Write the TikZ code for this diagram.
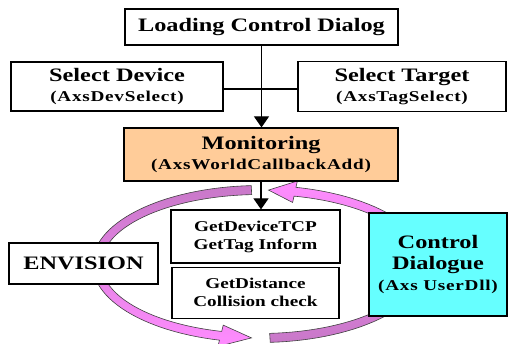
\documentclass[tikz,border=0pt]{standalone}
\usepackage{fontspec}
\setmainfont{Liberation Serif}[FakeStretch=1.28]
\usepackage{tikz}
\usetikzlibrary{arrows.meta, positioning, backgrounds}
\definecolor{peach}{RGB}{255,204,153}
\definecolor{aqua}{RGB}{102,255,255}
\definecolor{bandpurple}{RGB}{200,120,200}
\definecolor{bandpink}{RGB}{255,140,255}
\newcommand{\bigtxt}{\fontsize{19}{21}\selectfont}
\newcommand{\subtxt}{\fontsize{15}{17}\selectfont\addfontfeature{LetterSpace=5}}

\begin{document}
\begin{tikzpicture}[x=1pt, y=-1pt,
  box/.style={draw=black, line width=1.2pt, fill=white, align=center, font=\bfseries\bigtxt, inner sep=0pt},
  arr/.style={-{Triangle[width=15pt,length=11pt]}, line width=1.2pt},
  band/.style={draw=black!75, line width=0.6pt}
]
\useasboundingbox (0,0) rectangle (508,344);

\node[box, minimum width=273, minimum height=36] (load) at (261.5,27) {Loading Control Dialog};
\node[box, minimum width=212, minimum height=49] (dev) at (117,86.5) {Select Device\\[-1pt]\subtxt (AxsDevSelect)};
\node[box, minimum width=208, minimum height=50] (tgt) at (402,86.5) {Select Target\\[-1pt]\subtxt (AxsTagSelect)};
\node[box, fill=peach, minimum width=274, minimum height=53] (mon) at (261,154.5) {Monitoring\\[-1pt]\subtxt (AxsWorldCallbackAdd)};
\node[box, font=\bfseries\fontsize{15}{18}\selectfont, minimum width=169, minimum height=53] (tcp) at (255.5,236.5) {GetDeviceTCP\\GetTag Inform};
\node[box, font=\bfseries\fontsize{15}{18}\selectfont, minimum width=167, minimum height=51, below=3pt of tcp] (dist) {GetDistance\\Collision check};
\node[box, minimum width=149, minimum height=41] (env) at (83.5,263.5) {ENVISION};
\node[box, fill=aqua, minimum width=138, minimum height=103] (ctrl) at (438,264.5) {Control\\Dialogue\\\subtxt (Axs UserDll)};

\draw[arr] (load.south) -- (load.south |- mon.north);
\draw[line width=1.2pt] ([yshift=-2.5pt]dev.east) -- ([yshift=-2.5pt]tgt.west);
\draw[arr] (mon.south) -- (mon.south |- tcp.north);

% the two curved arrows of the monitoring loop
\begin{scope}[on background layer]
  \shadedraw[band, top color=bandpurple, bottom color=bandpink]
    plot[domain=267:104, samples=60] ({260+167.5*cos(\x)},{264+78.5*sin(\x)})
    -- ({260+174*cos(104)},{264+85*sin(104)})
    -- ({260+163*cos(93)},{264+74*sin(93)})
    -- ({260+152*cos(104)},{264+63*sin(104)})
    -- plot[domain=104:267, samples=60] ({260+158.5*cos(\x)},{264+69.5*sin(\x)})
    -- cycle;
  \shadedraw[band, top color=bandpink, bottom color=bandpurple]
    plot[domain=86.5:-77.6, samples=60] ({260+167.5*cos(\x)},{264+78.5*sin(\x)})
    -- ({260+174*cos(-77.6)},{264+85*sin(-77.6)})
    -- ({260+163*cos(-87)},{264+74*sin(-87)})
    -- ({260+152*cos(-77.6)},{264+63*sin(-77.6)})
    -- plot[domain=-77.6:86.5, samples=60] ({260+158.5*cos(\x)},{264+69.5*sin(\x)})
    -- cycle;
\end{scope}
\end{tikzpicture}
\end{document}
